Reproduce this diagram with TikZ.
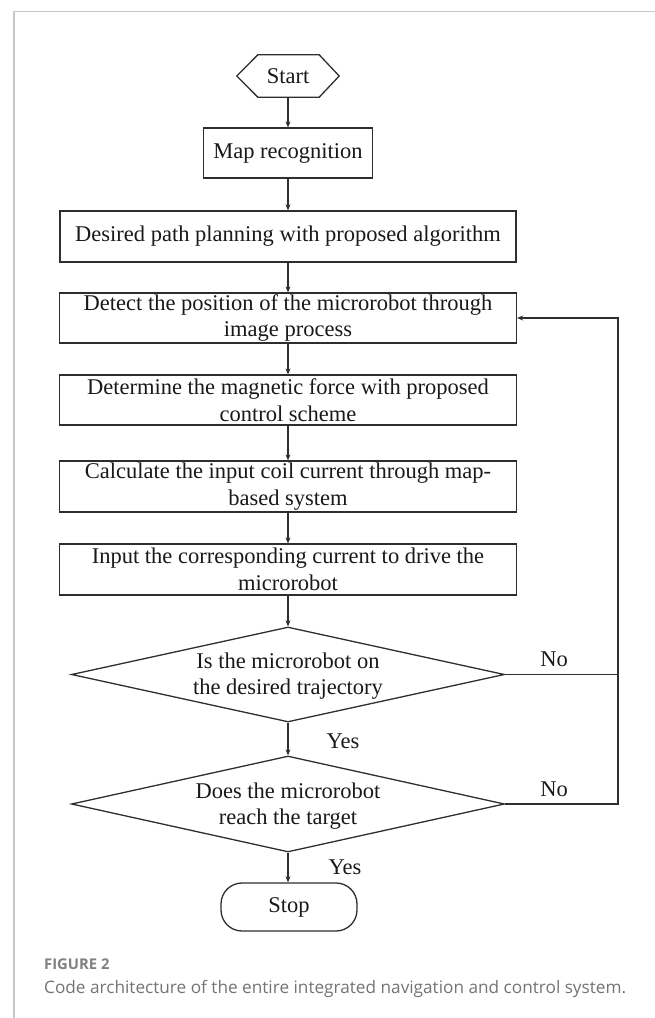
\documentclass[tikz,border=0pt]{standalone}
\usepackage{fontspec}
\setmainfont{Liberation Serif}
\newfontfamily\capfont{Open Sans}
\usetikzlibrary{shapes.geometric,arrows.meta,calc}
\definecolor{linec}{HTML}{2E2E2E}
\definecolor{framec}{HTML}{C8C8C8}
\definecolor{capgray}{HTML}{808080}
\definecolor{capgraytwo}{HTML}{747474}
\begin{document}
\begin{tikzpicture}[x=1pt,y=-1pt,
  txt/.style={font=\fontsize{22.5}{26.5}\selectfont, text=black!90},
  box/.style={txt, draw=linec, line width=1.3pt, inner sep=0pt, align=center},
  dia/.style={diamond, draw=linec, line width=1.3pt, inner sep=0pt},
  stopbox/.style={txt, draw=linec, line width=1.3pt, rounded corners=21pt, inner sep=0pt},
  arr/.style={draw=linec, line width=1.3pt, -{Stealth[length=6pt,width=5pt]}},
  ln/.style={draw=linec, line width=1.3pt},
  lbl/.style={txt, inner sep=0pt},
]
\useasboundingbox (0,0) rectangle (655,1018);
\draw[framec, line width=1.5pt] (14,1018) -- (14,11.7) -- (655,11.7);

\node[txt, minimum width=102pt, minimum height=42pt, inner sep=0pt] (start) at (288,76) {Start};
\draw[ln] (start.west) -- ([xshift=21pt]start.north west) -- ([xshift=-20pt]start.north east)
  -- (start.east) -- ([xshift=-20pt]start.south east) -- ([xshift=21pt]start.south west) -- cycle;

\node[box, minimum width=169pt, minimum height=50pt] (map) at (288,153) {Map recognition};
\node[box, minimum width=456pt, minimum height=51pt] (path) at (288,236.5) {Desired path planning with proposed algorithm};
\node[box, minimum width=457pt, minimum height=50pt] (detect) at (288,318) {Detect the position of the microrobot through\\image process};
\node[box, minimum width=457pt, minimum height=50pt] (force) at (288,400) {Determine the magnetic force with proposed\\control scheme};
\node[box, minimum width=457pt, minimum height=51pt] (coil) at (288,486.5) {Calculate the input coil current through map-\\based system};
\node[box, minimum width=457pt, minimum height=51pt] (drive) at (288,569.5) {Input the corresponding current to drive the\\microrobot};

\node[dia, minimum width=433pt, minimum height=95pt] (q1) at (288,674.5) {};
\node[txt, align=center, inner sep=0pt] (q1t) at (288,676) {Is the microrobot on\\the desired trajectory};
\node[dia, minimum width=433pt, minimum height=96pt] (q2) at (288,804) {};
\node[txt, align=center, inner sep=0pt] (q2t) at (288,806) {Does the microrobot\\reach the target};

\node[stopbox, minimum width=136pt, minimum height=48pt] (stop) at (289,907) {Stop};

\draw[arr] (start.south) -- (map.north);
\draw[arr] (map) -- (path);
\draw[arr] (path) -- (detect);
\draw[arr] (detect) -- (force);
\draw[arr] (force) -- (coil);
\draw[arr] (coil) -- (drive);
\draw[arr] (drive.south) -- (q1.north);
\draw[arr] (q1.south) -- (q2.north);
\draw[arr] (q2.south) -- (q2.south |- stop.north);

\coordinate (fbtop) at (618,318);
\draw[ln] (q1.east) -- (q1.east -| fbtop);
\draw[arr] (q2.east) -| (fbtop) -- (detect.east);

\node[lbl] (yes1) at (343,741) {Yes};
\node[lbl] (yes2) at (345,867) {Yes};
\node[lbl] (no1) at (554,659) {No};
\node[lbl] (no2) at (554,789) {No};

\node[anchor=base west, inner sep=0pt, text=capgray, font=\capfont\bfseries\fontsize{14.8}{17}\selectfont] (fig) at (44,969) {FIGURE 2};
\node[anchor=base west, inner sep=0pt, text=capgraytwo, font=\capfont\fontsize{17.2}{20}\selectfont] (cap) at (44,993.5) {Code architecture of the entire integrated navigation and control system.};
\end{tikzpicture}
\end{document}
